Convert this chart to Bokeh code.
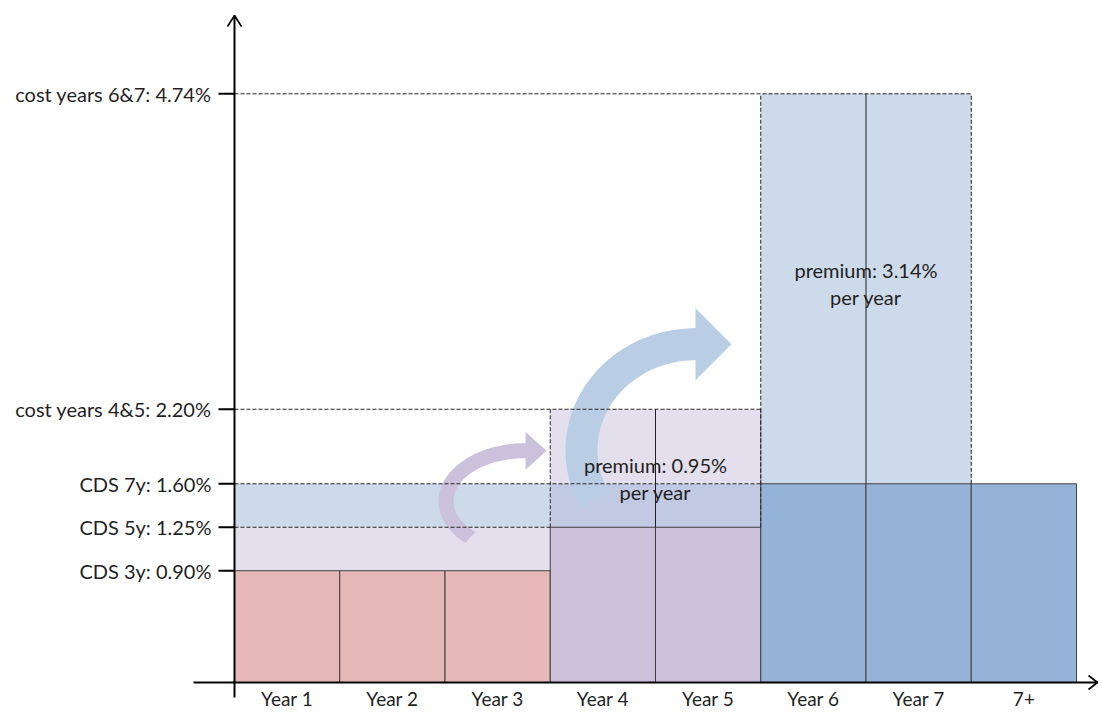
import numpy as np
from bokeh.plotting import figure
from bokeh.models import Range1d
from bokeh.core.properties import value
from bokeh.embed import file_html
from bokeh.resources import INLINE

# ---------------- data ----------------
categories = ["Year 1", "Year 2", "Year 3", "Year 4", "Year 5", "Year 6", "Year 7", "7+"]
spread_paid = [0.90, 0.90, 0.90, 1.25, 1.25, 1.60, 1.60, 1.60]
cds_tenors = [3, 5, 7]
cds_spreads = [0.90, 1.25, 1.60]
forward_costs = [2.20, 4.74]          # cost years 4&5, cost years 6&7
level_values = [0.90, 1.25, 1.60, 2.20, 4.74]
level_labels = ["CDS 3y: 0.90%", "CDS 5y: 1.25%", "CDS 7y: 1.60%",
                "cost years 4&5: 2.20%", "cost years 6&7: 4.74%"]
premium_labels = ["premium: 0.95%", "premium: 3.14%"]
premium_sub = ["per year", "per year"]

# ---------------- styling ----------------
W, H = 1100, 712
PXX, PXY = 105.25, 124.2          # pixels per data unit
OX, OY = 234, 682                 # canvas pixel of the origin
x0, x1 = -OX / PXX, (W - OX) / PXX
y0, y1 = -(H - OY) / PXY, OY / PXY

def px(d):
    return d / PXX

def py(d):
    return d / PXY

RED, PUR, BLU = "#E6B9B8", "#CCC1DA", "#95B3D7"
LP, LB, BLEND = "#E4DFEC", "#CDDAEA", "#C1CAE2"
ARROW_P, ARROW_B = "#CCC1DC", "#B9CDE5"
EDGE = "#404040"
TXT = "#1F1F1F"
FONT = value("Lato")
FS = "20px"
bar_color = {cds_spreads[0]: RED, cds_spreads[1]: PUR, cds_spreads[2]: BLU}

p = figure(width=W, height=H, x_range=Range1d(x0, x1), y_range=Range1d(y0, y1),
           output_backend="svg", toolbar_location=None, min_border=0,
           x_axis_location=None, y_axis_location=None)
p.grid.visible = False
p.outline_line_color = None
p.background_fill_color = "white"

t3, t5, t7 = cds_tenors
s3, s5, s7 = cds_spreads
c45, c67 = forward_costs

# ---------------- background bands ----------------
p.quad(left=[0, 0, t3, t3, t5], right=[t3, t5, t5, t5, t7],
       bottom=[s3, s5, s5, s7, s7], top=[s5, s7, s7, c45, c67],
       fill_color=[LP, LB, BLEND, LP, LB], line_color=None)

# ---------------- curved arrows ----------------
def curved_arrow(cx, cy, ao, bo, ai, bi, th_tail, hh, hl):
    th = np.radians(np.linspace(th_tail, 90, 60))
    xo = cx + ao * np.cos(th)
    yo = cy + bo * np.sin(th)
    thr = th[::-1]
    xi = cx + ai * np.cos(thr)
    yi = cy + bi * np.sin(thr)
    mid = cy + (bo + bi) / 2
    hx = [cx, cx, cx + hl, cx, cx]
    hy = [cy + bo, mid + hh, mid, mid - hh, cy + bi]
    xs = list(xo) + hx + list(xi)
    ys = list(yo) + hy + list(yi)
    return xs, ys

ax, ay = curved_arrow(2.765, 1.46, px(87), py(58), px(72), py(43), 226, py(19), px(21))
p.patch(ax, ay, fill_color=ARROW_P, line_color=None)
bx, by = curved_arrow(4.38, 1.87, px(130), py(122), px(98), py(90), 208, py(36), px(36))
p.patch(bx, by, fill_color=ARROW_B, line_color=None)

# ---------------- bars ----------------
idx = np.arange(len(categories))
p.quad(left=idx, right=idx + 1, bottom=0, top=spread_paid,
       fill_color=[bar_color[v] for v in spread_paid], line_color=EDGE, line_width=1)

# ---------------- dashed guides ----------------
dash = "4 2"
p.segment(x0=[0, 0, 0, 0], x1=[t7, t5, t5, t3], y0=[c67, c45, s7, s5], y1=[c67, c45, s7, s5],
          line_color="#262626", line_width=1, line_dash=dash)
p.segment(x0=[t3, t5, t5, t7], x1=[t3, t5, t5, t7], y0=[s5, s5, s7, s7], y1=[c45, c45, c67, c67],
          line_color="#262626", line_width=1, line_dash=dash)
# solid dividers inside the boxes
p.segment(x0=[(t3 + t5) / 2, (t5 + t7) / 2], x1=[(t3 + t5) / 2, (t5 + t7) / 2],
          y0=[s5, s7], y1=[c45, c67], line_color="#202020", line_width=1)

# ---------------- axes ----------------
x_end = x1 - px(3)
y_top = y1 - py(15)
p.segment(x0=[px(-41), 0], x1=[x_end, 0], y0=[0, py(-15)], y1=[0, y_top],
          line_color="black", line_width=2)
p.multi_line(xs=[[-px(7), 0, px(7)], [x_end - px(9), x_end, x_end - px(9)]],
             ys=[[y_top - py(11), y_top, y_top - py(11)], [py(7), 0, -py(7)]],
             line_color="black", line_width=1.6)
# y ticks
p.segment(x0=[-px(16)] * len(level_values), x1=[0] * len(level_values),
          y0=level_values, y1=level_values, line_color="black", line_width=2)

# ---------------- texts ----------------
p.text(x=[-px(23)] * len(level_values), y=level_values, text=level_labels,
       text_align="right", text_baseline="middle", text_font=FONT,
       text_font_size=FS, text_color=TXT)
p.text(x=idx + 0.5, y=[-py(16)] * len(categories), text=categories,
       text_align="center", text_baseline="middle", text_font=FONT,
       text_font_size="19px", text_color=TXT)
box_cx = [(t3 + t5) / 2, (t5 + t7) / 2]
box_ty = [s7 + py(19), (s7 + c67) / 2 + py(19)]
p.text(x=box_cx, y=box_ty, text=premium_labels, text_align="center",
       text_baseline="middle", text_font=FONT, text_font_size=FS, text_color=TXT)
p.text(x=box_cx, y=[v - py(27) for v in box_ty], text=premium_sub, text_align="center",
       text_baseline="middle", text_font=FONT, text_font_size=FS, text_color=TXT)

open("out.html", "w").write(file_html(p, INLINE))
